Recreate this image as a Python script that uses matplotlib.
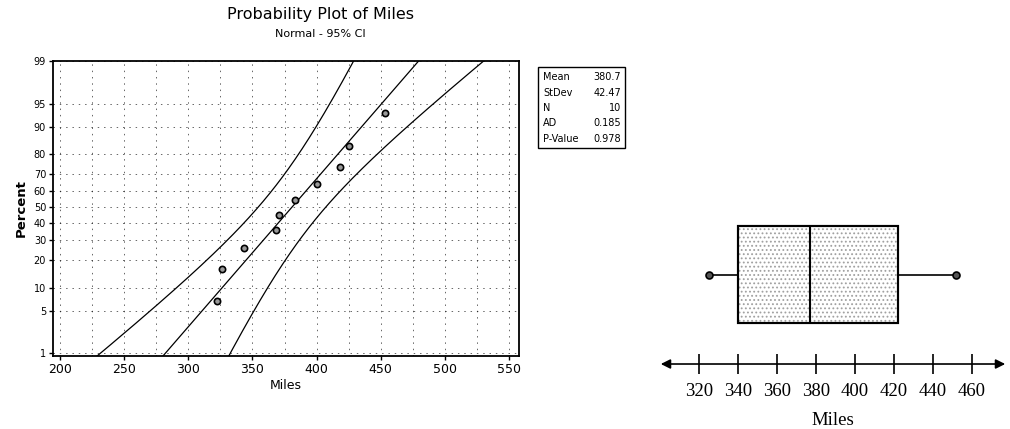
import numpy as np
import matplotlib.pyplot as plt
from matplotlib.patches import Rectangle
from statistics import NormalDist

# Datos
miles = np.array([322, 326, 343, 368, 371, 383, 400, 418, 425, 453])
percent = np.array([6.7, 16.3, 26.0, 35.6, 45.2, 54.8, 64.4, 74.0, 83.7, 93.3])
mean, stdev, n = 380.7, 42.47, 10
stat_names = ["Mean", "StDev", "N", "AD", "P-Value"]
stat_values = ["380.7", "42.47", "10", "0.185", "0.978"]
pct_ticks = [1, 5, 10, 20, 30, 40, 50, 60, 70, 80, 90, 95, 99]
x_ticks = [200, 250, 300, 350, 400, 450, 500, 550]
box_stats = dict(whislo=325, q1=340, med=377, q3=422, whishi=452, fliers=[])
line_ticks = [320, 340, 360, 380, 400, 420, 440, 460]

nd = NormalDist()
z = lambda p: np.array([nd.inv_cdf(v / 100.0) for v in np.atleast_1d(p)])

plt.rcParams["hatch.linewidth"] = 0.8

fig = plt.figure(figsize=(10.10, 4.29), dpi=100)

# --- grafico de probabilidad normal
ax = fig.add_axes([0.0525, 0.1702, 0.4614, 0.6876])
zz = np.linspace(-2.6, 2.6, 200)
fit = mean + stdev * zz
half = 1.96 * stdev * np.sqrt((1 + zz ** 2 / 2) / n)
ax.plot(fit, zz, color="black", lw=0.9)
ax.plot(fit - half, zz, color="black", lw=0.9)
ax.plot(fit + half, zz, color="black", lw=0.9)
ax.plot(miles, z(percent), "o", ms=4.5, mfc="#999999", mec="black", mew=1.2)

ax.set_xlim(194.5, 557.8)
ax.set_ylim(-2.366, nd.inv_cdf(0.99))
ax.set_xticks(x_ticks)
ax.set_yticks(z(pct_ticks))
ax.set_yticklabels([str(p) for p in pct_ticks])
ax.set_xticks(np.arange(225, 551, 25), minor=True)
ax.tick_params(axis="x", labelsize=9, length=3, width=1, pad=2)
ax.tick_params(axis="y", labelsize=7, length=3, width=1, pad=2)
ax.tick_params(which="minor", length=0)
ax.grid(True, which="both", color="black", lw=0.7, alpha=0.6, linestyle=(0, (1.5, 5)))
for s in ax.spines.values():
    s.set_linewidth(1.3)
ax.set_xlabel("Miles", fontsize=9, labelpad=2)
ax.set_ylabel("Percent", fontsize=9.5, fontweight="bold", labelpad=4)

fig.text(0.317, 0.967, "Probability Plot of Miles", ha="center", va="center", fontsize=11.5)
fig.text(0.317, 0.920, "Normal - 95% CI", ha="center", va="center", fontsize=8)

# cuadro de estadisticos
fig.patches.append(Rectangle((538 / 1010, 1 - 148 / 429), 87 / 1010, 81 / 429,
                             transform=fig.transFigure, fill=False, ec="black", lw=1))
for i, (nm, val) in enumerate(zip(stat_names, stat_values)):
    yy = 1 - (77 + 15.5 * i) / 429
    fig.text(543 / 1010, yy, nm, fontsize=7, va="center", ha="left")
    fig.text(621 / 1010, yy, val, fontsize=7, va="center", ha="right")

# --- diagrama de caja
bx = fig.add_axes([0.6515, 0.1515, 0.3465, 0.3473])
pos, w = 0.6, 0.65
bx.bxp([box_stats], positions=[pos], widths=w, orientation="horizontal",
       showcaps=False, patch_artist=True,
       boxprops=dict(facecolor="white", edgecolor="black", lw=1.5),
       medianprops=dict(color="black", lw=1.5, zorder=4),
       whiskerprops=dict(color="black", lw=1.2))
bx.add_patch(Rectangle((box_stats["q1"], pos - w / 2), box_stats["q3"] - box_stats["q1"], w,
                       hatch="....", fill=False, ec="#a0a0a0", lw=0, zorder=3))
bx.add_patch(Rectangle((box_stats["q1"], pos - w / 2), box_stats["q3"] - box_stats["q1"], w,
                       fill=False, ec="black", lw=1.5, zorder=3.5))
bx.plot([box_stats["whislo"], box_stats["whishi"]], [pos, pos], "o", ms=5,
        mfc="#555555", mec="black", mew=1.2, zorder=4)
bx.set_xlim(298.8, 478.7)
bx.set_ylim(0, 1)
for s in ["left", "right", "top", "bottom"]:
    bx.spines[s].set_visible(False)
bx.set_yticks([])
bx.set_xticks(line_ticks)
bx.tick_params(axis="x", direction="inout", length=14, width=1.2, pad=7)
for lab in bx.get_xticklabels():
    lab.set_fontfamily("Liberation Serif")
    lab.set_fontsize(13.5)
bx.annotate("", xy=(0, 0), xytext=(1, 0), xycoords="axes fraction",
            arrowprops=dict(arrowstyle="<|-|>", color="black", lw=1.2, mutation_scale=14))
bx.set_xlabel("Miles", fontfamily="Liberation Serif", fontsize=13.5, labelpad=8)

fig.savefig("out.png", dpi=100)
